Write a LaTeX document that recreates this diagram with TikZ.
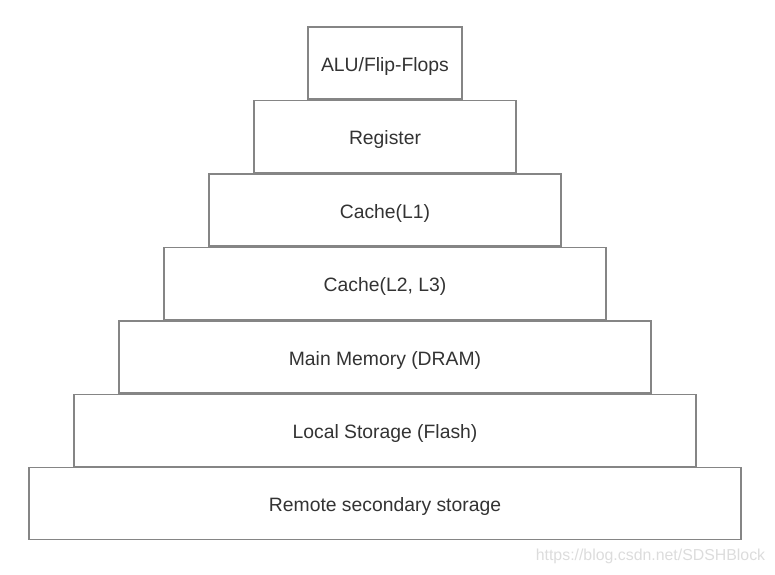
\documentclass[tikz,border=0pt]{standalone}
\usepackage{fontspec}
\setmainfont{Liberation Sans}
\definecolor{edge}{HTML}{858585}
\definecolor{txt}{HTML}{333333}
\definecolor{wm}{HTML}{DCDCDC}
\begin{document}
\begin{tikzpicture}[x=0.75pt,y=-0.75pt,
  layer/.style={draw=edge, line width=1.1pt, fill=white, minimum height=54pt, inner sep=0pt,
    text height=12pt, text depth=0pt,
    text=txt, font=\fontsize{14.5pt}{17pt}\selectfont}]
\useasboundingbox (0,0) rectangle (775,575);
\node[layer, minimum width=115.5pt] (alu) at (385,63) {ALU/Flip-Flops};
\node[layer, minimum width=196.5pt] (reg) at (385,136.5) {Register};
\node[layer, minimum width=264pt] (l1) at (385,210) {Cache(L1)};
\node[layer, minimum width=331.5pt] (l2) at (385,283.5) {Cache(L2, L3)};
\node[layer, minimum width=399pt] (mem) at (385,357) {Main Memory (DRAM)};
\node[layer, minimum width=466.5pt] (loc) at (385,430.5) {Local Storage (Flash)};
\node[layer, minimum width=534pt] (rem) at (385,503.5) {Remote secondary storage};
\node[text=wm, font=\fontsize{11.9pt}{14pt}\selectfont, inner sep=0pt] (url) at (650.5,556) {https://blog.csdn.net/SDSHBlock};
\end{tikzpicture}
\end{document}
